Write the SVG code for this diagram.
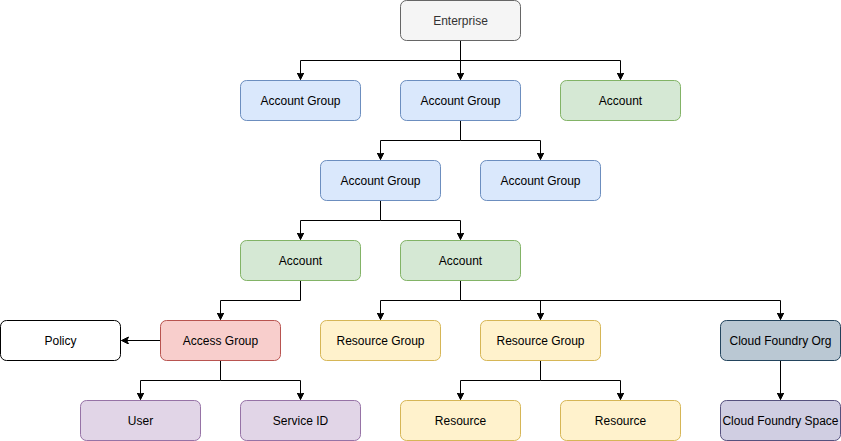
<svg xmlns="http://www.w3.org/2000/svg" width="841" height="441" viewBox="0 0 841 441">
<style>
.n rect{stroke-width:1}
.n text{font-family:"Liberation Sans",Arial,sans-serif;font-size:12px;text-anchor:middle;dominant-baseline:central;fill:#000}
.gray rect{fill:#f5f5f5;stroke:#666666}
.gray text{fill:#333333}
.blue rect{fill:#dae8fc;stroke:#6c8ebf}
.green rect{fill:#d5e8d4;stroke:#82b366}
.red rect{fill:#f8cecc;stroke:#b85450}
.yellow rect{fill:#fff2cc;stroke:#d6b656}
.purple rect{fill:#e1d5e7;stroke:#9673a6}
.slate rect{fill:#bac8d3;stroke:#23445d}
.lav rect{fill:#d0cee2;stroke:#56517e}
.white rect{fill:#ffffff;stroke:#000000}
.e path{fill:none;stroke:#000;stroke-width:1;marker-end:url(#arr)}
</style>
<defs>
<marker id="arr" markerUnits="userSpaceOnUse" markerWidth="8" markerHeight="8" refX="7" refY="3.5" orient="auto" viewBox="0 0 8 8">
<path d="M7,3.5 L0,0 L1.75,3.5 L0,7 Z" fill="#000" stroke="#000" stroke-width="1"/>
</marker>
</defs>
<g transform="translate(0.5,0.5)">
<g id="edges" class="e">
<path d="M460,40 V60 H300 V79"/>
<path d="M460,40 V79"/>
<path d="M460,60 H620 V79"/>
<path d="M460,120 V140 H380 V159"/>
<path d="M460,140 H540 V159"/>
<path d="M380,200 V220 H300 V239"/>
<path d="M380,220 H460 V239"/>
<path d="M300,280 V300 H220 V319"/>
<path d="M460,280 V300 H380 V319"/>
<path d="M460,300 H540 V319"/>
<path d="M460,300 H780 V319"/>
<path d="M160,340 H121"/>
<path d="M220,360 V380 H140 V399"/>
<path d="M220,380 H300 V399"/>
<path d="M540,360 V380 H460 V399"/>
<path d="M540,380 H620 V399"/>
<path d="M780,360 V399"/>
</g>
<g id="enterprise" class="n gray"><rect x="400" y="0" width="120" height="40" rx="6"/><text x="460" y="20">Enterprise</text></g>
<g id="ag1" class="n blue"><rect x="240" y="80" width="120" height="40" rx="6"/><text x="300" y="100">Account Group</text></g>
<g id="ag2" class="n blue"><rect x="400" y="80" width="120" height="40" rx="6"/><text x="460" y="100">Account Group</text></g>
<g id="acc1" class="n green"><rect x="560" y="80" width="120" height="40" rx="6"/><text x="620" y="100">Account</text></g>
<g id="ag3" class="n blue"><rect x="320" y="160" width="120" height="40" rx="6"/><text x="380" y="180">Account Group</text></g>
<g id="ag4" class="n blue"><rect x="480" y="160" width="120" height="40" rx="6"/><text x="540" y="180">Account Group</text></g>
<g id="acc2" class="n green"><rect x="240" y="240" width="120" height="40" rx="6"/><text x="300" y="260">Account</text></g>
<g id="acc3" class="n green"><rect x="400" y="240" width="120" height="40" rx="6"/><text x="460" y="260">Account</text></g>
<g id="policy" class="n white"><rect x="0" y="320" width="120" height="40" rx="6"/><text x="60" y="340">Policy</text></g>
<g id="accessgroup" class="n red"><rect x="160" y="320" width="120" height="40" rx="6"/><text x="220" y="340">Access Group</text></g>
<g id="rg1" class="n yellow"><rect x="320" y="320" width="120" height="40" rx="6"/><text x="380" y="340">Resource Group</text></g>
<g id="rg2" class="n yellow"><rect x="480" y="320" width="120" height="40" rx="6"/><text x="540" y="340">Resource Group</text></g>
<g id="cforg" class="n slate"><rect x="720" y="320" width="120" height="40" rx="6"/><text x="780" y="340">Cloud Foundry Org</text></g>
<g id="user" class="n purple"><rect x="80" y="400" width="120" height="40" rx="6"/><text x="140" y="420">User</text></g>
<g id="serviceid" class="n purple"><rect x="240" y="400" width="120" height="40" rx="6"/><text x="300" y="420">Service ID</text></g>
<g id="res1" class="n yellow"><rect x="400" y="400" width="120" height="40" rx="6"/><text x="460" y="420">Resource</text></g>
<g id="res2" class="n yellow"><rect x="560" y="400" width="120" height="40" rx="6"/><text x="620" y="420">Resource</text></g>
<g id="cfspace" class="n lav"><rect x="720" y="400" width="120" height="40" rx="6"/><text x="780" y="420">Cloud Foundry Space</text></g>
</g>
</svg>
